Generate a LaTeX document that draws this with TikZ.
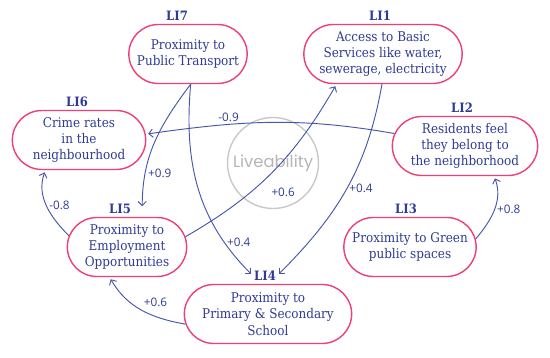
\documentclass[tikz,border=0pt]{standalone}
\usepackage{fontspec}
\IfFontExistsTF{DejaVu Serif Condensed}
  {\setmainfont{DejaVu Serif Condensed}}
  {\setmainfont{DejaVu Serif}}
\newfontfamily\numfont{Open Sans}
\newfontfamily\logofont{Poppins}
\usetikzlibrary{arrows.meta, positioning, shapes.misc}
\definecolor{boxpink}{HTML}{EE3F78}
\definecolor{linkblue}{HTML}{4556AE}
\definecolor{inkblue}{HTML}{2E3B96}
\definecolor{ringgray}{HTML}{C8C8C8}

\begin{document}
\begin{tikzpicture}[x=0.03cm, y=0.03cm,
    indicator/.style={draw=boxpink, line width=1.2pt, rounded rectangle, minimum height=1.77cm,
      align=center, text=inkblue, font=\fontsize{11.4}{14}\selectfont, inner xsep=2pt},
    tag/.style={text=inkblue, font=\bfseries\fontsize{11}{12}\selectfont, inner sep=1pt},
    link/.style={linkblue, line width=0.8pt, shorten >=2pt, -{Straight Barb[length=3.5pt,width=7pt]}},
    weight/.style={text=inkblue, font=\numfont\fontsize{10}{11}\selectfont, inner sep=2pt}]
    \useasboundingbox (0,0) rectangle (550,357);
    % centre
    \node[draw=ringgray, line width=1.2pt, circle, minimum size=2.7cm, text=ringgray!90!black,
      font=\logofont\fontsize{14}{16}\selectfont] (core) at (273,194) {Liveability};
    % indicators
    \node[indicator, minimum width=3.69cm] (li7) at (188,303) {Proximity to\\Public Transport};
    \node[indicator, minimum width=4.89cm] (li1) at (383,303) {Access to Basic\\Services like water,\\sewerage, electricity};
    \node[indicator, minimum width=4.14cm] (li6) at (79,217) {Crime rates\\in the\\neighbourhood};
    \node[indicator, minimum width=4.5cm] (li2) at (465,211) {Residents feel\\they belong to\\the neighborhood};
    \node[indicator, minimum width=3.72cm] (li5) at (127,110) {Proximity to\\Employment\\Opportunities};
    \node[indicator, minimum width=5.16cm] (li4) at (268,43) {Proximity to\\Primary \& Secondary\\School};
    \node[indicator, minimum width=4.11cm] (li3) at (410,110) {Proximity to Green\\public spaces};
    % tags
    \node[tag, above=0.6mm of li7, xshift=-3.3mm] (li7tag) {LI7};
    \node[tag, above=0.6mm of li1, xshift=-0.9mm] (li1tag) {LI1};
    \node[tag, above=0.6mm of li6, xshift=-0.6mm] (li6tag) {LI6};
    \node[tag, above=0.6mm of li2, xshift=-0.9mm] (li2tag) {LI2};
    \node[tag, above=0.6mm of li5, xshift=-2.1mm] (li5tag) {LI5};
    \node[tag, above=0.6mm of li4, xshift=-0.9mm] (li4tag) {LI4};
    \node[tag, above=0.6mm of li3, xshift=-1.2mm] (li3tag) {LI3};
    % links
    \draw[link] (li2.170) to[out=170, in=8] node[weight, pos=0.68, above] {-0.9} (li6.5);
    \draw[link] (li7.-85) to[out=-127, in=90] node[weight, pos=0.75, right] {+0.9} ([xshift=3mm]li5tag.east);
    \draw[link] (li7.-85) to[out=-95, in=135] node[weight, pos=0.8, right] {+0.4} (li4tag.west);
    \draw[link] (li5.10) to[out=30, in=-120] node[weight, pos=0.45, anchor=north west, xshift=1mm, yshift=-2mm] {+0.6} (li1.213);
    \draw[link] (li1.-92) to[out=-100, in=45] node[weight, pos=0.5, right] {+0.4} (li4tag.east);
    \draw[link] (li5.169) to[out=135, in=-110] node[weight, pos=0.5, right] {-0.8} (li6.222);
    \draw[link] (li4.187) to[out=170, in=-60] node[weight, pos=0.5, above right] {+0.6} (li5.240);
    \draw[link] (li3.7) to[out=50, in=-70] node[weight, pos=0.5, right] {+0.8} (li2.-46);
\end{tikzpicture}
\end{document}
